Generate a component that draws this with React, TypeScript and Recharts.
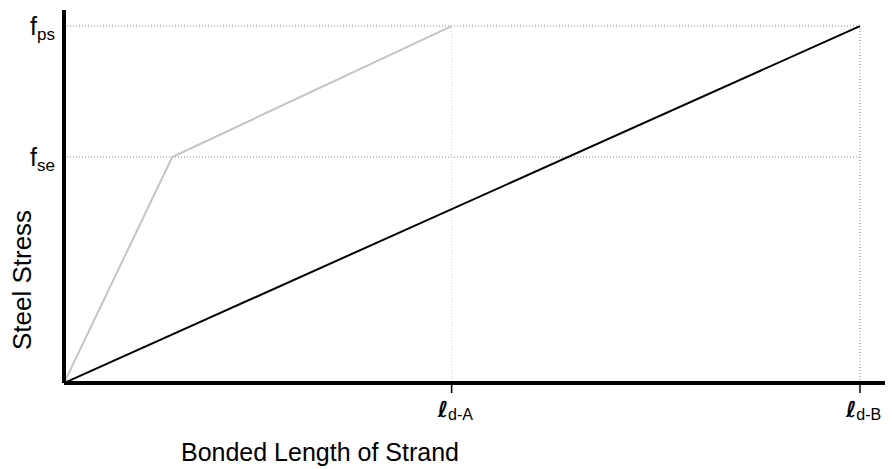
import { LineChart, Line, XAxis, YAxis, ReferenceLine, Label } from "recharts";

// x: bonded length (fraction of l_d-B), y: steel stress (fraction of f_ps)
const ldA = 0.487;
const ldB = 1;
const fse = 0.633;
const fps = 1;

const strandAx = [0, 0.136, ldA];
const strandAy = [0, fse, fps];
const strandBx = [0, ldB];
const strandBy = [0, fps];

const xTicks = [ldA, ldB];
const xTickSubs = ["d-A", "d-B"];
const yTicks = [fse, fps];
const yTickSubs = ["se", "ps"];

const strandA = strandAx.map((x, i) => ({ x, y: strandAy[i] }));
const strandB = strandBx.map((x, i) => ({ x, y: strandBy[i] }));

const FONT = "'Liberation Sans', Arial, sans-serif";

function XTick({ x, y, payload }: any) {
  const i = xTicks.indexOf(payload.value);
  return (
    <text x={x - 14} y={y + 22} textAnchor="start" fontFamily={FONT} fill="#000">
      <tspan fontFamily="'DejaVu Sans'" fontWeight="bold" fontStyle="italic" fontSize={22}>
        ℓ
      </tspan>
      <tspan fontSize={16} dy={3}>
        {xTickSubs[i]}
      </tspan>
    </text>
  );
}

function YTick({ x, y, payload }: any) {
  const i = yTicks.indexOf(payload.value);
  return (
    <text x={x - 1} y={y + 9} textAnchor="end" fontFamily={FONT} fill="#000">
      <tspan fontSize={25}>f</tspan>
      <tspan fontSize={17} dy={5}>
        {yTickSubs[i]}
      </tspan>
    </text>
  );
}

function XLabel({ viewBox }: any) {
  return (
    <text
      x={viewBox.x + 256}
      y={viewBox.y + 78}
      textAnchor="middle"
      fontFamily={FONT}
      fontSize={25}
      fill="#000"
    >
      Bonded Length of Strand
    </text>
  );
}

function YLabel() {
  const cx = 14;
  const cy = 272;
  return (
    <text
      x={cx}
      y={cy}
      transform={`rotate(-90 ${cx} ${cy})`}
      textAnchor="middle"
      dominantBaseline="central"
      fontFamily={FONT}
      fontSize={26}
      fill="#000"
    >
      Steel Stress
    </text>
  );
}

export default function App() {
  const dot = { stroke: "#888", strokeDasharray: "1 2", strokeWidth: 1 };
  return (
    <LineChart width={885} height={461} margin={{ top: 2, right: 0, left: 0, bottom: 0 }}>
      <XAxis
        type="number"
        dataKey="x"
        domain={[0, 1.0415]}
        ticks={xTicks}
        allowDataOverflow
        height={86}
        axisLine={{ stroke: "#000", strokeWidth: 4 }}
        tickLine={{ stroke: "#000", strokeWidth: 1.5 }}
        tickSize={10}
        tick={<XTick />}
      >
        <Label content={<XLabel />} />
      </XAxis>
      <YAxis
        type="number"
        dataKey="y"
        domain={[0, 1.045]}
        ticks={yTicks}
        allowDataOverflow
        width={56}
        axisLine={{ stroke: "#000", strokeWidth: 4 }}
        tickLine={false}
        tick={<YTick />}
      >
        <Label content={<YLabel />} />
      </YAxis>
      <ReferenceLine segment={[{ x: 0, y: fps }, { x: ldB, y: fps }]} {...dot} />
      <ReferenceLine segment={[{ x: 0, y: fse }, { x: ldB, y: fse }]} {...dot} />
      <ReferenceLine segment={[{ x: ldA, y: 0 }, { x: ldA, y: fps }]} {...dot} stroke="#ccc" />
      <ReferenceLine segment={[{ x: ldB, y: 0 }, { x: ldB, y: fps }]} {...dot} />
      <Line
        data={strandA}
        dataKey="y"
        type="linear"
        stroke="#c4c4c4"
        strokeWidth={2}
        dot={false}
        isAnimationActive={false}
      />
      <Line
        data={strandB}
        dataKey="y"
        type="linear"
        stroke="#000"
        strokeWidth={2}
        dot={false}
        isAnimationActive={false}
      />
    </LineChart>
  );
}
